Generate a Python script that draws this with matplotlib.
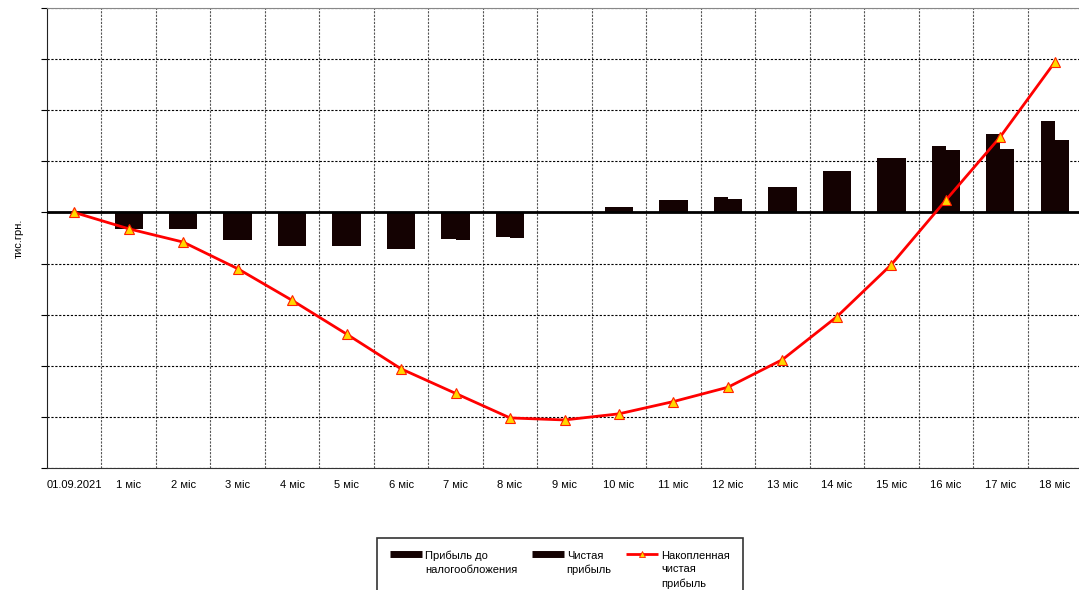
import numpy as np
import matplotlib
matplotlib.use("Agg")
import matplotlib.pyplot as plt
from matplotlib.lines import Line2D

plt.rcParams['font.family'] = ['Liberation Sans', 'DejaVu Sans']

# Categories and values (тис.грн.)
categories = ['01.09.2021'] + [f'{i} міс' for i in range(1, 19)]
profit_before_tax = [0, -16, -16, -27, -33, -33, -36, -26, -24, 0,
                     5, 12, 15, 25, 41, 53, 65, 77, 89]
net_profit = [0, -16, -16, -27, -33, -33, -36, -27, -25, 0,
              5, 12, 13, 25, 41, 53, 61, 62, 71]
cumulative_net = [0, -16, -29, -55, -86, -119, -153, -177, -201, -203,
                  -197, -185, -171, -144, -102, -51, 12, 74, 147]

bar_color = '#140202'
x = np.arange(len(categories))
w = 0.26

fig = plt.figure(figsize=(10.79, 5.90), dpi=100)
ax = fig.add_axes([47 / 1079, 122 / 590, 1035 / 1079, 460 / 590])

ax.bar(x - w / 2, profit_before_tax, width=w, color=bar_color, zorder=3)
ax.bar(x + w / 2, net_profit, width=w, color=bar_color, zorder=3)
ax.axhline(0, color='black', lw=2, zorder=4)
ax.plot(x, cumulative_net, color='#ff0000', lw=2, marker='^',
        markersize=6.5, markerfacecolor='#ffd700', markeredgecolor='#ff2000',
        markeredgewidth=0.8, zorder=5)

ax.set_xlim(-0.5, len(categories) - 0.5)
ax.set_ylim(-250, 200)

ax.set_xticks(x)
ax.set_xticklabels(categories, fontsize=8)
ax.tick_params(axis='x', which='major', length=0, pad=9)
ax.set_xticks(x[:-1] + 0.5, minor=True)
ax.tick_params(axis='x', which='minor', length=0)
ax.grid(axis='x', which='minor', color='#555555', linestyle=(0, (2, 1.2)), lw=0.8)

ax.set_yticks(np.arange(-250, 201, 50))
ax.set_yticklabels([])
ax.tick_params(axis='y', length=4, width=0.8, direction='out')
ax.grid(axis='y', which='major', color='black', linestyle=(0, (2, 1.5)), lw=0.8)
ax.set_axisbelow(True)

ax.spines['left'].set_color('#222222')
ax.spines['bottom'].set_color('#333333')
ax.spines['top'].set_color('#888888')
ax.spines['right'].set_visible(False)

ax.set_ylabel('тис.грн.', fontsize=8, labelpad=9)

handles = [
    Line2D([0], [0], color=bar_color, lw=5, solid_capstyle='butt'),
    Line2D([0], [0], color=bar_color, lw=5, solid_capstyle='butt'),
    Line2D([0], [0], color='#ff0000', lw=2, marker='^', markersize=5, solid_capstyle='butt',
           markerfacecolor='#ffd700', markeredgecolor='#ff2000', markeredgewidth=0.6),
]
# trailing blank line keeps all labels top-aligned like the original
labels = ['Прибыль до\nналогообложения\n ', 'Чистая\nприбыль\n ', 'Накопленная\nчистая\nприбыль']
leg = fig.legend(handles, labels, loc='upper center', bbox_to_anchor=(560 / 1079, 1 - 538 / 590),
                 ncol=3, fontsize=8, frameon=True, fancybox=False, edgecolor='black',
                 handlelength=2.9, handletextpad=0.25, columnspacing=1.3, borderpad=1.15,
                 borderaxespad=0)
leg.get_frame().set_linewidth(1.2)
for t in leg.get_texts():
    t.set_linespacing(1.45)

# put each handle beside the first line of its label
for line in leg.get_lines():
    line.set_ydata(np.asarray(line.get_ydata(), dtype=float) + 11.2)

fig.savefig('out.png', dpi=100)
